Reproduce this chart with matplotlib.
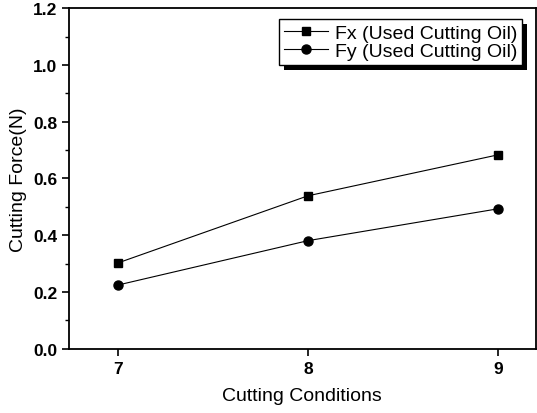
import matplotlib
matplotlib.use("Agg")
import matplotlib.pyplot as plt
from matplotlib.patches import Rectangle
from matplotlib.ticker import MultipleLocator

plt.rcParams["font.family"] = ["Liberation Sans", "DejaVu Sans"]

conditions = [7, 8, 9]
fx_used_oil = [0.303, 0.539, 0.683]
fy_used_oil = [0.225, 0.381, 0.493]
series_labels = ["Fx (Used Cutting Oil)", "Fy (Used Cutting Oil)"]

fig = plt.figure(figsize=(5.37, 4.14), dpi=100)
ax = fig.add_axes([0.1285, 0.155, 0.869, 0.823])

ax.plot(conditions, fx_used_oil, color="black", lw=0.8, marker="s", ms=6,
        label=series_labels[0])
ax.plot(conditions, fy_used_oil, color="black", lw=0.8, marker="o", ms=6.5,
        label=series_labels[1])

ax.set_xlim(6.74, 9.2)
ax.set_ylim(0, 1.2)
ax.set_xticks(conditions)
ax.yaxis.set_major_locator(MultipleLocator(0.2))
ax.yaxis.set_minor_locator(MultipleLocator(0.1))
ax.yaxis.set_major_formatter(plt.FormatStrFormatter("%.1f"))
ax.tick_params(direction="out", length=5, width=1.2, labelsize=12.5)
ax.tick_params(which="minor", direction="out", length=3, width=1.0)
for lab in ax.get_xticklabels() + ax.get_yticklabels():
    lab.set_fontweight("bold")
for sp in ax.spines.values():
    sp.set_linewidth(1.3)

ax.set_xlabel("Cutting Conditions", fontsize=14, labelpad=8)
ax.set_ylabel("Cutting Force(N)", fontsize=14, labelpad=4)

leg = ax.legend(loc="upper right", bbox_to_anchor=(0.984, 0.985), fontsize=14,
                frameon=True, fancybox=False, edgecolor="black", framealpha=1,
                handlelength=2.3, borderpad=0.25, labelspacing=0.05,
                handletextpad=0.35, borderaxespad=0.3)
leg.get_frame().set_linewidth(1.0)
leg.set_zorder(6)

# heavy drop shadow behind the legend box
fig.canvas.draw()
bb = leg.get_frame().get_window_extent().transformed(fig.transFigure.inverted())
off_x, off_y = 5 / 537, 5 / 414
shadow = Rectangle((bb.x0 + off_x, bb.y0 - off_y), bb.width, bb.height,
                   transform=fig.transFigure, facecolor="black", edgecolor="none",
                   zorder=5.5, clip_on=False)
ax.add_artist(shadow)

fig.savefig("out.png", dpi=100)
